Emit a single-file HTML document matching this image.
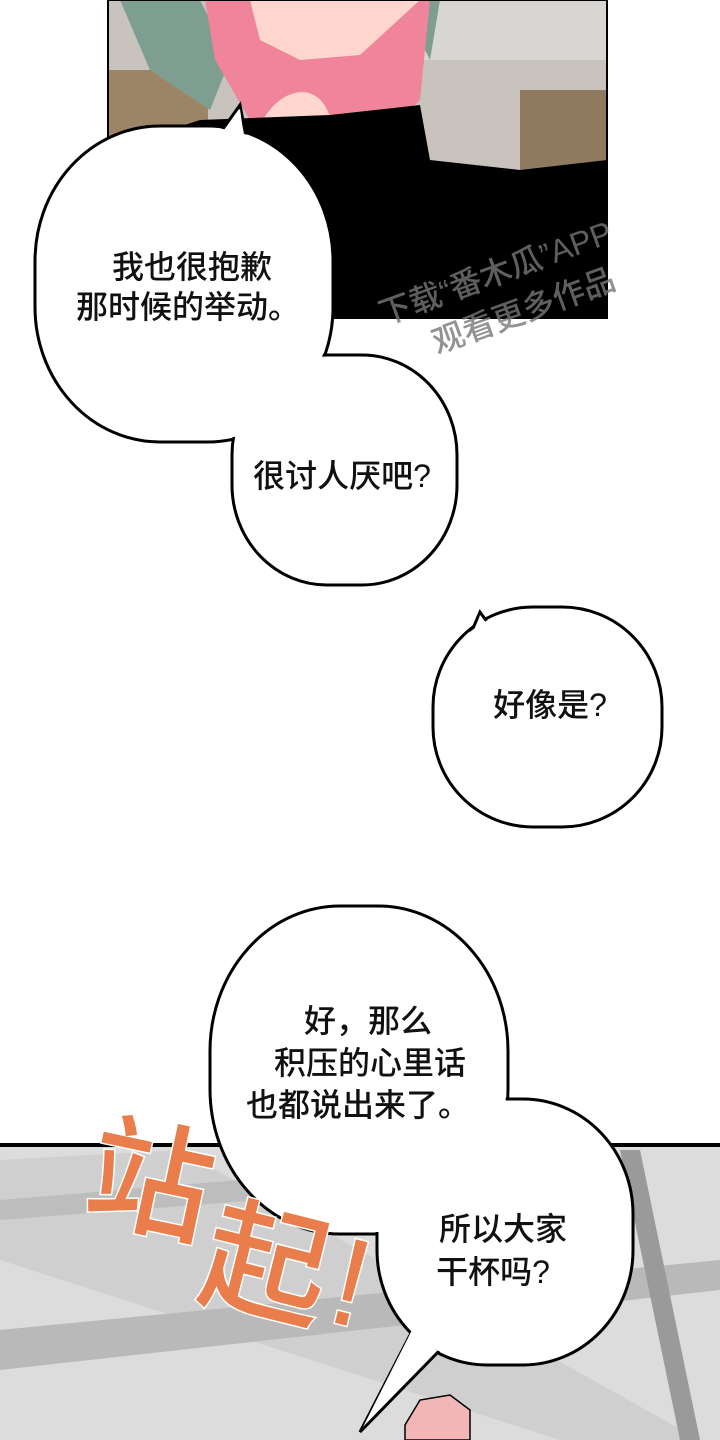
<!DOCTYPE html>
<html><head><meta charset="utf-8"><style>
html,body{margin:0;padding:0;background:#fff}
svg{display:block}
text{font-family:"Liberation Sans","Noto Sans CJK SC",sans-serif;font-weight:500}
</style></head><body>
<svg width="720" height="1440" viewBox="0 0 720 1440" xmlns="http://www.w3.org/2000/svg">
<rect width="720" height="1440" fill="#fff"/>
<!-- top panel -->
<rect x="108" y="0" width="499" height="318" fill="#c8c4bd"/>
<rect x="108" y="70" width="100" height="130" fill="#9c8466"/>
<rect x="520" y="90" width="87" height="80" fill="#8f7a60"/>
<rect x="420" y="0" width="187" height="60" fill="#d8d6d2"/>
<path d="M120 0 L200 0 L230 60 L210 110 L150 70 Z" fill="#7f9e92"/>
<path d="M400 0 L440 0 L430 60 Z" fill="#7f9e92"/>
<path d="M205 0 L430 0 L420 100 L400 120 L330 130 L250 120 L215 60 Z" fill="#f0849a"/>
<path d="M250 0 L420 0 L360 55 L300 60 L260 40 Z" fill="#ffd6ce"/>
<path d="M260 125 C280 85 320 80 330 118 Z" fill="#ffd6ce"/>
<path d="M108 318 L108 150 L200 120 L330 115 L420 105 L430 160 L520 170 L607 160 L607 318 Z" fill="#000"/>
<rect x="108" y="0" width="499" height="318" fill="none" stroke="#000" stroke-width="2"/>
<g fill="#777" opacity="0.8" font-size="32" transform="rotate(-20 520 260)">
<text x="370" y="275">下载“番木瓜”APP</text>
<text x="410" y="320">观看更多作品</text>
</g>
<!-- bottom panel -->
<rect x="0" y="1145" width="720" height="295" fill="#dcdcdc"/>
<path d="M0 1160 L180 1150 L700 1440 L560 1440 L0 1260 Z" fill="#cfcfcf"/>
<path d="M0 1330 L720 1260 L720 1290 L0 1370 Z" fill="#b9b9b9"/>
<path d="M0 1200 L240 1180 L260 1200 L0 1220 Z" fill="#bdbdbd"/>
<path d="M620 1150 L640 1150 L700 1440 L680 1440 Z" fill="#9a9a9a"/>
<rect x="0" y="1143" width="720" height="4" fill="#000"/>
<path d="M405 1425 L420 1400 L450 1395 L470 1410 L470 1440 L405 1440 Z" fill="#f2b6b6" stroke="#000" stroke-width="1.5"/>
<!-- bubbles: outline -->
<g fill="#fff" stroke="#000" stroke-width="3">
<rect x="35" y="126" width="298" height="316" rx="125" ry="135"/>
<rect x="232" y="355" width="225" height="230" rx="95" ry="100"/>
<polygon points="215,140 240,105 247,142"/>
<rect x="433" y="607" width="229" height="220" rx="100" ry="100"/>
<polygon points="468,640 480,612 500,640"/>
<rect x="210" y="906" width="298" height="328" rx="130" ry="145"/>
<rect x="377" y="1099" width="256" height="266" rx="110" ry="115"/>
<polygon points="410,1335 360,1432 440,1350"/>
</g>
<g fill="#fff">
<rect x="37" y="128" width="294" height="312" rx="123" ry="133"/>
<rect x="234" y="357" width="221" height="226" rx="93" ry="98"/>
<polygon points="217,145 240,109 245,145"/>
<rect x="435" y="609" width="225" height="216" rx="98" ry="98"/>
<polygon points="470,645 480,615 498,645"/>
<rect x="212" y="908" width="294" height="324" rx="128" ry="143"/>
<rect x="379" y="1101" width="252" height="262" rx="108" ry="113"/>
<polygon points="412,1330 363,1427 438,1345"/>
</g>
<!-- SFX -->
<g font-size="125" font-weight="bold" fill="#e97d4b" stroke="#fff" stroke-width="3" paint-order="stroke">
<text x="88" y="1225" transform="rotate(12 150 1180)">站</text>
<text x="205" y="1310" transform="rotate(14 270 1260)">起</text>
<text x="335" y="1330" transform="rotate(14 370 1280)">!</text>
</g>
<!-- text -->
<g font-size="32" fill="#111" text-anchor="middle" font-weight="bold">
<text x="192" y="278">我也很抱歉</text>
<text x="188" y="318">那时候的举动。</text>
<text x="342" y="487">很讨人厌吧?</text>
<text x="550" y="716">好像是?</text>
<text x="368" y="1032">好，那么</text>
<text x="370" y="1074">积压的心里话</text>
<text x="358" y="1116">也都说出来了。</text>
<text x="503" y="1240">所以大家</text>
<text x="493" y="1283">干杯吗?</text>
</g>
</svg>
</body></html>
